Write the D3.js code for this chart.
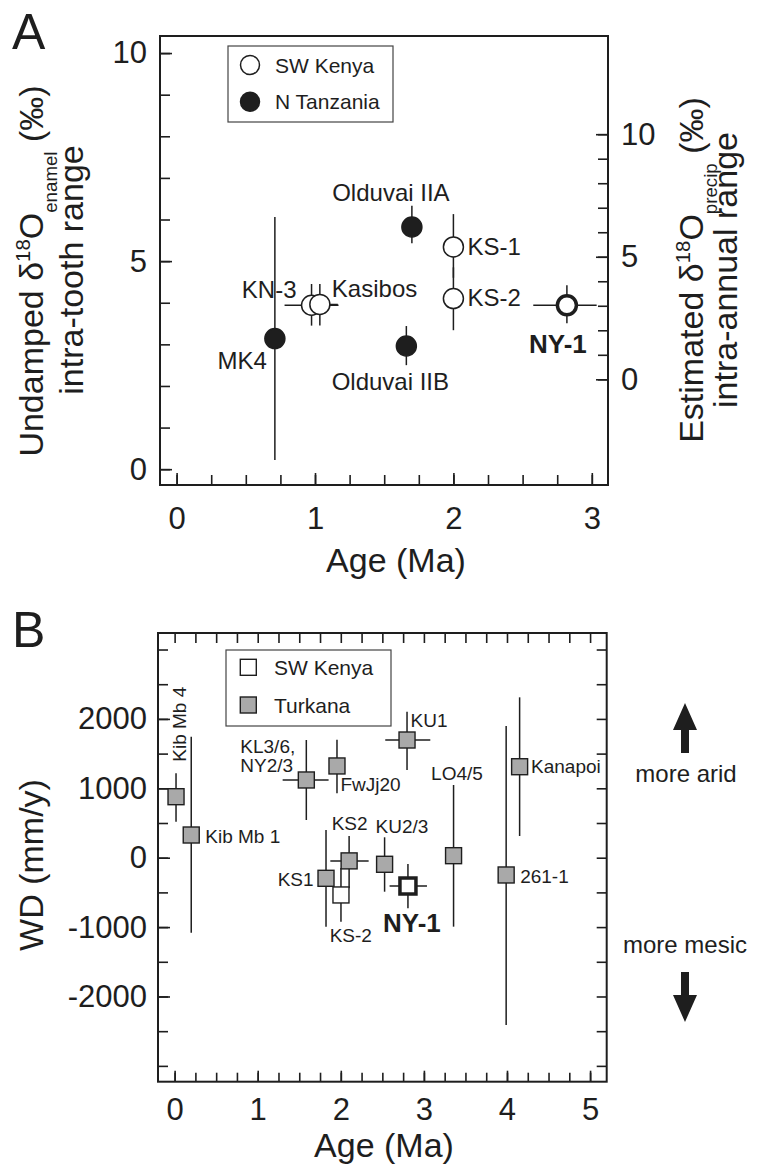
<!DOCTYPE html>
<html><head><meta charset="utf-8">
<script src="https://cdn.jsdelivr.net/npm/d3@7"></script>
<style>
body{margin:0;background:#fff}
svg{display:block}
text{font-family:"Liberation Sans",Arial,Helvetica,sans-serif;fill:#1e1e1e}
</style>
</head><body>
<svg id="c" width="758" height="1170"></svg>
<script>
// ---------- Panel A data ----------
const sitesA   = ["KN-3","Kasibos","MK4","Olduvai IIA","Olduvai IIB","KS-1","KS-2","NY-1"];
const regionA  = ["SW Kenya","SW Kenya","N Tanzania","N Tanzania","N Tanzania","SW Kenya","SW Kenya","SW Kenya"];
const ageA     = [0.975, 1.035, 0.71, 1.70, 1.66, 2.00, 2.00, 2.82];
const ageLoA   = [0.78, 0.90, null, null, null, null, null, 2.577];
const ageHiA   = [1.17, 1.165, null, null, null, null, null, 3.035];
const rangeA   = [3.94, 3.96, 3.14, 5.82, 2.96, 5.34, 4.10, 3.94];
const rangeLoA = [3.45, 3.45, 0.22, 5.43, 2.50, 4.60, 3.34, 3.51];
const rangeHiA = [4.45, 4.45, 6.06, 6.33, 3.44, 6.13, 4.85, 4.42];
const legendA  = ["SW Kenya","N Tanzania"];
const xTicksA  = [0,1,2,3];
const yTicksA  = [0,5,10];
const rTicksA  = [0,5,10];
// enamel-range value at which precip-range reads 0 and 10 (right axis)
const precipAt = [2.16, 8.05];

// ---------- Panel B data ----------
const sitesB  = ["Kib Mb 4","Kib Mb 1","KL3/6, NY2/3","FwJj20","KS1","KS2","KS-2","KU2/3","NY-1","KU1","LO4/5","261-1","Kanapoi"];
const regionB = ["Turkana","Turkana","Turkana","Turkana","Turkana","Turkana","SW Kenya","Turkana","SW Kenya","Turkana","Turkana","Turkana","Turkana"];
const ageB    = [0.017, 0.20, 1.585, 1.954, 1.822, 2.10, 2.002, 2.527, 2.808, 2.797, 3.357, 3.99, 4.152];
const ageLoB  = [null, null, 1.30, null, null, 1.874, null, null, 2.587, 2.535, null, null, null];
const ageHiB  = [null, null, 1.853, null, null, 2.335, null, null, 3.037, 3.077, null, null, null];
const wdB     = [879, 327, 1120, 1322, -297, -46, -537, -95, -408, 1696, 29, -249, 1311];
const wdLoB   = [519, -1081, 543, 928, -994, -440, -922, -490, -729, 1264, -994, -2410, 313];
const wdHiB   = [1216, 1744, 1696, 1700, 399, 313, -150, 294, -91, 2104, 1048, 1898, 2311];
const legendB = ["SW Kenya","Turkana"];
const xTicksB = [0,1,2,3,4,5];
const yTicksB = [-2000,-1000,0,1000,2000];

// ---------- layout / style ----------
const svg = d3.select("#c");
svg.append("rect").attr("width",758).attr("height",1170).attr("fill","#fff");
const INK = "#1e1e1e";
const GRAY = "#a9a9a9";
const fmt = d => String(d);   // plain hyphen-minus like the original

function range(a,b,s){const r=[];for(let v=a;v<=b+1e-9;v+=s)r.push(+v.toFixed(4));return r;}

function styleAxis(g){
  g.select(".domain").remove();
  g.selectAll(".tick line").attr("stroke",INK).attr("stroke-width",1.6);
  g.selectAll(".tick text").attr("fill",INK).style("font-size","31px");
}

// ================= PANEL A =================
const xA = d3.scaleLinear().domain([-0.12, 3.117]).range([160, 608]);
const yA = d3.scaleLinear().domain([-0.38, 10.41]).range([485, 36]);
const rA = d3.scaleLinear().domain([0,10]).range([yA(precipAt[0]), yA(precipAt[1])]);

const gA = svg.append("g");
gA.append("g").attr("transform","translate(160,0)")
  .call(d3.axisLeft(yA).tickValues(range(0,10,1)).tickSize(-10).tickFormat("")).call(styleAxis);
gA.append("g").attr("transform","translate(160,0)")
  .call(d3.axisLeft(yA).tickValues(yTicksA).tickSize(-12).tickPadding(13).tickFormat(fmt)).call(styleAxis);
gA.append("g").attr("transform","translate(0,485)")
  .call(d3.axisBottom(xA).tickValues(range(0,3,0.25)).tickSize(-10).tickFormat("")).call(styleAxis);
gA.append("g").attr("transform","translate(0,485)")
  .call(d3.axisBottom(xA).tickValues(xTicksA).tickSize(-12).tickPadding(22).tickFormat(fmt)).call(styleAxis);
gA.append("g").attr("transform","translate(608,0)")
  .call(d3.axisRight(rA).tickValues(range(0,10,1)).tickSize(-10).tickFormat("")).call(styleAxis);
gA.append("g").attr("transform","translate(608,0)")
  .call(d3.axisRight(rA).tickValues(rTicksA).tickSize(-12).tickPadding(13).tickFormat(fmt)).call(styleAxis);
gA.append("rect").attr("x",160).attr("y",36).attr("width",448).attr("height",449)
  .attr("fill","none").attr("stroke",INK).attr("stroke-width",2);

// legend A
gA.append("rect").attr("x",228).attr("y",46).attr("width",165).attr("height",76)
  .attr("fill","#fff").attr("stroke","#444").attr("stroke-width",1.2);
legendA.forEach((name,i)=>{
  const cy = 65 + i*36.7;
  gA.append("circle").attr("cx",250).attr("cy",cy).attr("r",9.5)
    .attr("fill", name==="SW Kenya"?"#fff":INK).attr("stroke",INK).attr("stroke-width",1.5);
  gA.append("text").attr("x",275).attr("y",cy+7.5).style("font-size","21px").text(name);
});

// error bars A
sitesA.forEach((s,i)=>{
  gA.append("line").attr("x1",xA(ageA[i])).attr("x2",xA(ageA[i]))
    .attr("y1",yA(rangeLoA[i])).attr("y2",yA(rangeHiA[i]))
    .attr("stroke",INK).attr("stroke-width",1.5);
  if(ageLoA[i]!==null){
    gA.append("line").attr("x1",xA(ageLoA[i])).attr("x2",xA(ageHiA[i]))
      .attr("y1",yA(rangeA[i])).attr("y2",yA(rangeA[i]))
      .attr("stroke",INK).attr("stroke-width",1.5);
  }
});
// markers A
sitesA.forEach((s,i)=>{
  const bold = s==="NY-1";
  gA.append("circle").attr("cx",xA(ageA[i])).attr("cy",yA(rangeA[i])).attr("r",bold?9.5:10)
    .attr("fill", regionA[i]==="SW Kenya"?"#fff":INK)
    .attr("stroke",INK).attr("stroke-width",bold?3.5:1.5);
});
// labels A  [anchor, dx, dy]
const labA = {
  "KN-3":["end",-15,-7], "Kasibos":["start",12,-7], "MK4":["end",-8,30],
  "Olduvai IIA":["middle",-21,-26], "Olduvai IIB":["middle",-16,44],
  "KS-1":["start",14,8], "KS-2":["start",14,7], "NY-1":["middle",-9,48]
};
sitesA.forEach((s,i)=>{
  const l = labA[s];
  gA.append("text").attr("x",xA(ageA[i])+l[1]).attr("y",yA(rangeA[i])+l[2])
    .attr("text-anchor",l[0]).style("font-size", s==="NY-1"?"26px":"24px")
    .style("font-weight", s==="NY-1"?"bold":"normal").text(s);
});

// axis titles A
gA.append("text").attr("x",396).attr("y",572).attr("text-anchor","middle").style("font-size","34px").text("Age (Ma)");
function deltaTitle(g, x, y, pre, sub, fs){
  const t = g.append("text").attr("transform",`translate(${x},${y}) rotate(-90)`)
    .attr("text-anchor","middle").style("font-size",fs+"px");
  t.append("tspan").text(pre+" \u03b4");
  t.append("tspan").style("font-size",(fs*0.6)+"px").attr("dy",-fs*0.38).text("18");
  t.append("tspan").attr("dy",fs*0.38).text("O");
  t.append("tspan").style("font-size",(fs*0.55)+"px").attr("dy",fs*0.42).text(sub);
  t.append("tspan").attr("dy",-fs*0.42).text(" (\u2030)");
  return t;
}
deltaTitle(gA, 43, 271, "Undamped", "enamel", 34);
gA.append("text").attr("transform","translate(83,270) rotate(-90)").attr("text-anchor","middle")
  .style("font-size","34px").text("intra-tooth range");
deltaTitle(gA, 703, 270, "Estimated", "precip", 34);
gA.append("text").attr("transform","translate(737,270) rotate(-90)").attr("text-anchor","middle")
  .style("font-size","34px").text("intra-annual range");

svg.append("text").attr("x",12).attr("y",49).style("font-size","50px").text("A");

// ================= PANEL B =================
const xB = d3.scaleLinear().domain([-0.2, 5.2]).range([158, 606.7]);
const yB = d3.scaleLinear().domain([-3228, 3238]).range([1081.7, 633]);
const gB = svg.append("g");

gB.append("g").attr("transform","translate(158,0)")
  .call(d3.axisLeft(yB).tickValues(range(-3000,3000,500)).tickSize(-10).tickFormat("")).call(styleAxis);
gB.append("g").attr("transform","translate(158,0)")
  .call(d3.axisLeft(yB).tickValues(yTicksB).tickSize(-12).tickPadding(11).tickFormat(fmt)).call(styleAxis);
gB.append("g").attr("transform","translate(606.7,0)")
  .call(d3.axisRight(yB).tickValues(range(-3000,3000,500)).tickSize(-10).tickFormat("")).call(styleAxis);
gB.append("g").attr("transform","translate(0,1081.7)")
  .call(d3.axisBottom(xB).tickValues(range(0,5,0.25)).tickSize(-9).tickFormat("")).call(styleAxis);
gB.append("g").attr("transform","translate(0,1081.7)")
  .call(d3.axisBottom(xB).tickValues(xTicksB).tickSize(-11).tickPadding(16).tickFormat(fmt)).call(styleAxis);
gB.append("g").attr("transform","translate(0,633)")
  .call(d3.axisTop(xB).tickValues(range(0,5,0.25)).tickSize(-10).tickFormat("")).call(styleAxis);
gB.append("rect").attr("x",158).attr("y",633).attr("width",448.7).attr("height",448.7)
  .attr("fill","none").attr("stroke",INK).attr("stroke-width",2);

// legend B
gB.append("rect").attr("x",226).attr("y",650).attr("width",165).attr("height",76)
  .attr("fill","#fff").attr("stroke","#444").attr("stroke-width",1.2);
legendB.forEach((name,i)=>{
  const cy = 667.3 + i*37.7;
  gB.append("rect").attr("x",248.3-8).attr("y",cy-8).attr("width",16).attr("height",16)
    .attr("fill", name==="SW Kenya"?"#fff":GRAY).attr("stroke",INK).attr("stroke-width",1.4);
  gB.append("text").attr("x",274).attr("y",cy+7.5).style("font-size","21px").text(name);
});

// error bars B
sitesB.forEach((s,i)=>{
  gB.append("line").attr("x1",xB(ageB[i])).attr("x2",xB(ageB[i]))
    .attr("y1",yB(wdLoB[i])).attr("y2",yB(wdHiB[i]))
    .attr("stroke",INK).attr("stroke-width",1.5);
  if(ageLoB[i]!==null){
    gB.append("line").attr("x1",xB(ageLoB[i])).attr("x2",xB(ageHiB[i]))
      .attr("y1",yB(wdB[i])).attr("y2",yB(wdB[i]))
      .attr("stroke",INK).attr("stroke-width",1.5);
  }
});
// markers B
sitesB.forEach((s,i)=>{
  const bold = s==="NY-1";
  const sz = 16;
  gB.append("rect").attr("x",xB(ageB[i])-sz/2).attr("y",yB(wdB[i])-sz/2)
    .attr("width",sz).attr("height",sz)
    .attr("fill", regionB[i]==="SW Kenya"?"#fff":GRAY)
    .attr("stroke",INK).attr("stroke-width",bold?3.5:1.4);
});
// labels B [anchor, dx, dy, rotate]
const labB = {
  "Kib Mb 4":["start",9.5,-35,true], "Kib Mb 1":["start",14,8], "KL3/6, NY2/3":["start",-66,-27],
  "FwJj20":["start",3.5,25], "KS1":["end",-12.4,7.7], "KS2":["middle",0.5,-31],
  "KS-2":["middle",9.8,46.7], "KU2/3":["middle",17.4,-31.6], "NY-1":["middle",4,45.7],
  "KU1":["start",3.5,-13.3], "LO4/5":["middle",3.4,-75.7], "261-1":["start",14,8.3], "Kanapoi":["start",11.4,6]
};
sitesB.forEach((s,i)=>{
  const l = labB[s];
  const px = xB(ageB[i])+l[1], py = yB(wdB[i])+l[2];
  const bold = s==="NY-1";
  const t = gB.append("text").attr("text-anchor",l[0])
    .style("font-size", bold?"26px":"19px").style("font-weight", bold?"bold":"normal");
  if(l[3]){
    t.attr("transform",`translate(${px},${py}) rotate(-90)`).text(s);
  } else if(s.indexOf(", ")>=0){
    const parts = s.split(", ");
    t.attr("x",px).attr("y",py);
    t.append("tspan").attr("x",px).attr("y",py).text(parts[0]+",");
    t.append("tspan").attr("x",px).attr("y",py+18.7).text(parts[1]);
  } else {
    t.attr("x",px).attr("y",py).text(s);
  }
});

// axis titles B
gB.append("text").attr("x",384).attr("y",1157).attr("text-anchor","middle").style("font-size","34px").text("Age (Ma)");
gB.append("text").attr("transform","translate(43,865) rotate(-90)").attr("text-anchor","middle")
  .style("font-size","34px").text("WD (mm/y)");

// side annotations
gB.append("path").attr("d","M685,703 L697,730 L689,730 L689,753 L681,753 L681,730 L673,730 Z").attr("fill",INK);
gB.append("text").attr("x",686).attr("y",782).attr("text-anchor","middle").style("font-size","24px").text("more arid");
gB.append("text").attr("x",685).attr("y",953).attr("text-anchor","middle").style("font-size","24px").text("more mesic");
gB.append("path").attr("d","M685,1022 L697,995 L689,995 L689,972 L681,972 L681,995 L673,995 Z").attr("fill",INK);

svg.append("text").attr("x",12).attr("y",647).style("font-size","50px").text("B");
</script>
</body></html>
